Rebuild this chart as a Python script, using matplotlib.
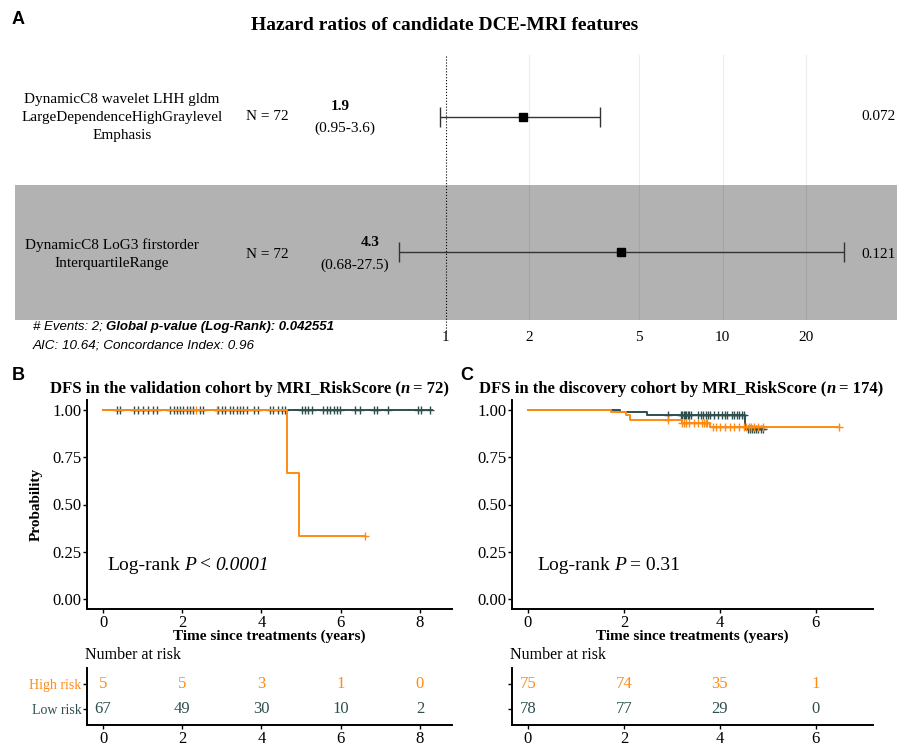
import numpy as np
import matplotlib
matplotlib.use("Agg")
import matplotlib.pyplot as plt

plt.rcParams['font.family'] = ['Liberation Serif', 'DejaVu Serif']
plt.rcParams['mathtext.fontset'] = 'stix'

W, H = 897, 746
HIGH = '#FF8A14'
LOW = '#2F4F4F'
BAND = '#B2B2B2'

# ---- forest plot data
features = ["DynamicC8 wavelet LHH gldm\nLargeDependenceHighGraylevel\nEmphasis",
            "DynamicC8 LoG3 firstorder\nInterquartileRange"]
n_obs = [72, 72]
hr = [1.9, 4.3]
ci_low = [0.95, 0.68]
ci_high = [3.6, 27.5]
p_vals = ["0.072", "0.121"]
hr_ticks = [1, 2, 5, 10, 20]

# ---- KM validation cohort (B)
b_high_t = [0, 4.65, 4.95, 6.62]
b_high_s = [1.0, 0.667, 0.333, 0.333]
b_high_cens = [2.36, 2.87, 6.62]
b_low_t = [0, 8.3]
b_low_s = [1.0, 1.0]
b_low_cens = [0.35, 0.43, 0.77, 0.89, 1.02, 1.14, 1.27, 1.36, 1.69, 1.78, 1.86, 1.94,
              2.03, 2.11, 2.20, 2.28, 2.45, 2.53, 2.91, 3.00, 3.08, 3.21, 3.29, 3.38,
              3.46, 3.54, 3.63, 3.80, 3.92, 4.22, 4.30, 4.43, 4.51, 4.60, 5.02, 5.10,
              5.18, 5.27, 5.56, 5.65, 5.73, 5.82, 5.90, 5.98, 6.36, 6.49, 6.83, 6.91,
              7.20, 7.96, 8.04, 8.26]
b_risk_t = [0, 2, 4, 6, 8]
b_risk_high = [5, 5, 3, 1, 0]
b_risk_low = [67, 49, 30, 10, 2]

# ---- KM discovery cohort (C)
c_high_t = [0, 1.72, 2.04, 2.13, 3.2, 3.8, 6.48]
c_high_s = [1.0, 0.987, 0.975, 0.946, 0.932, 0.910, 0.910]
c_high_cens = [2.92, 3.22, 3.26, 3.30, 3.35, 3.45, 3.55, 3.62, 3.66, 3.70, 3.74, 3.85,
               3.92, 4.0, 4.1, 4.2, 4.3, 4.4, 4.5, 4.55, 4.6, 4.65, 4.7, 4.8, 4.9, 6.48]
c_low_t = [0, 1.92, 2.47, 4.53, 4.9]
c_low_s = [1.0, 0.987, 0.974, 0.900, 0.900]
c_low_cens = [2.92, 3.18, 3.22, 3.25, 3.28, 3.30, 3.33, 3.36, 3.40, 3.55, 3.60, 3.65,
              3.70, 3.75, 3.80, 3.88, 3.95, 4.05, 4.10, 4.15, 4.25, 4.30, 4.35, 4.40,
              4.45, 4.50, 4.58, 4.62, 4.66, 4.70, 4.75, 4.80, 4.85, 4.90]
c_risk_t = [0, 2, 4, 6]
c_risk_high = [75, 74, 35, 1]
c_risk_low = [78, 77, 29, 0]

fig = plt.figure(figsize=(W / 100, H / 100), dpi=100)


def px_axes(x0, y0, x1, y1):
    return fig.add_axes([x0 / W, 1 - y1 / H, (x1 - x0) / W, (y1 - y0) / H])


def ftext(x, y, s, **kw):
    return fig.text(x / W, 1 - y / H, s, **kw)


def rich(x, y, parts, size):
    # draw text pieces one after another on the same line
    r = fig.canvas.get_renderer()
    for s, kw, gap in parts:
        t = ftext(x, y, s, ha='left', va='center', fontsize=size, **kw)
        x = t.get_window_extent(r).x1 + gap


# ================= A: forest plot
ftext(18, 20, "A", family='Liberation Sans', fontweight='bold', fontsize=13, ha='center', va='center')
ftext(445, 25, "Hazard ratios of candidate DCE-MRI features", fontweight='bold',
      fontsize=14, ha='center', va='center')

axf = px_axes(15, 55, 897, 320)
axf.set_xscale('log')
axf.set_xlim(0.02787, 42.58)
axf.set_ylim(1.5, -0.46)
for i in range(len(hr)):
    if i % 2 == 1:
        axf.axhspan(i - 0.5, i + 0.5, color=BAND, zorder=0, lw=0)
for v in hr_ticks[1:]:
    axf.axvline(v, color='black', alpha=0.07, lw=0.8, zorder=1)
axf.axvline(1, ymin=-0.04, ymax=1, ls=':', color='black', lw=0.8, clip_on=False, zorder=2)
for i in range(len(hr)):
    axf.errorbar(hr[i], i, xerr=[[hr[i] - ci_low[i]], [ci_high[i] - hr[i]]], fmt='s',
                 color='black', ms=5.5, ecolor='#333333', elinewidth=1, capsize=7.2,
                 capthick=1, zorder=3)
axf.set_xticks(hr_ticks)
axf.set_xticklabels([str(v) for v in hr_ticks])
axf.xaxis.set_minor_locator(matplotlib.ticker.NullLocator())
axf.set_yticks([])
axf.tick_params(axis='x', length=0, pad=8, labelsize=11)
for sp in axf.spines.values():
    sp.set_visible(False)

row_y = [117, 254]
label_x = [122, 112]
hr_x = [340, 370]
ci_x = [345, 355]
for i in range(len(hr)):
    ftext(label_x[i], row_y[i], features[i], ha='center', va='center', fontsize=11,
          linespacing=1.5)
    ftext(267, row_y[i], f"N = {n_obs[i]}", ha='center', va='center', fontsize=11)
    ftext(hr_x[i], row_y[i] - 11, f"{hr[i]}", ha='center', va='center', fontsize=11,
          fontweight='bold')
    ftext(ci_x[i], row_y[i] + 11, f"({ci_low[i]}-{ci_high[i]})", ha='center', va='center',
          fontsize=11)
    ftext(896, row_y[i], p_vals[i], ha='right', va='center', fontsize=11)

sans_it = dict(family='Liberation Sans', style='italic')
rich(33, 327, [("# Events: 2;", sans_it, 3),
               ("Global p-value (Log-Rank): 0.042551", dict(sans_it, fontweight='bold'), 0)], 9.5)
rich(33, 345, [("AIC: 10.64; Concordance Index: 0.96", sans_it, 0)], 9.7)


# ================= B & C: KM curves
def km_panel(x0, x1, xlim, xt, steps, risk, title_n, title_txt, ptxt, letter, lx, row_labels):
    ax = px_axes(x0, 400, x1, 609)
    for t, s, cens, col in steps:
        ax.step(t, s, where='post', color=col, lw=1.4)
        idx = np.searchsorted(t, cens, side='right') - 1
        ax.plot(cens, np.asarray(s)[idx], ls='none', marker='+', ms=6, mew=1, color=col)
    ax.set_xlim(*xlim)
    ax.set_ylim(-0.053, 1.053)
    ax.set_xticks(xt)
    ax.set_yticks([0, 0.25, 0.5, 0.75, 1.0])
    ax.set_yticklabels(["0.00", "0.25", "0.50", "0.75", "1.00"])
    ax.tick_params(labelsize=12, length=3, width=1, pad=1)
    for sp in ['top', 'right']:
        ax.spines[sp].set_visible(False)
    for sp in ['left', 'bottom']:
        ax.spines[sp].set_linewidth(1.4)
    ax.set_xlabel("Time since treatments (years)", fontweight='bold', fontsize=11, labelpad=-1)
    ftext(lx, 375, letter, family='Liberation Sans', fontweight='bold', fontsize=13,
          ha='center', va='center')
    rich(x0 - 37 if letter == 'B' else x0 - 33, 389,
         [(title_txt + " (", dict(fontweight='bold'), 0),
          ("n", dict(fontweight='bold', style='italic'), 3),
          (f"= {title_n})", dict(fontweight='bold'), 0)], 12)
    rich(x0 + 20 if letter == 'B' else x0 + 25, 565, ptxt, 14)

    # risk table
    axr = px_axes(x0, 668, x1, 725)
    rt, rh, rl = risk
    for j in range(len(rt)):
        axr.text(rt[j], 1, str(rh[j]), color=HIGH, ha='center', va='center', fontsize=12)
        axr.text(rt[j], 0, str(rl[j]), color=LOW, ha='center', va='center', fontsize=12)
    axr.set_xlim(*xlim)
    axr.set_ylim(-0.6, 1.6)
    axr.set_xticks(xt)
    axr.set_yticks([0, 1])
    axr.set_yticklabels(row_labels)
    for lab, col in zip(axr.get_yticklabels(), [LOW, HIGH]):
        lab.set_color(col)
    axr.tick_params(axis='y', labelsize=10, length=3, width=1, pad=1)
    axr.tick_params(axis='x', labelsize=12, length=3, width=1, pad=1)
    for sp in ['top', 'right']:
        axr.spines[sp].set_visible(False)
    for sp in ['left', 'bottom']:
        axr.spines[sp].set_linewidth(1.4)
    ftext(x0 - 2, 655, "Number at risk", ha='left', va='center', fontsize=11.5)
    return ax


axb = km_panel(87, 452, (-0.404, 8.81), b_risk_t,
               [(b_low_t, b_low_s, b_low_cens, LOW), (b_high_t, b_high_s, b_high_cens, HIGH)],
               (b_risk_t, b_risk_high, b_risk_low), 72,
               "DFS in the validation cohort by MRI_RiskScore",
               [("Log-rank", {}, 4), ("P", dict(style='italic'), 4), ("<", {}, 4),
                ("0.0001", dict(style='italic'), 0)], "B", 18, ["Low risk", "High risk"])
axb.set_ylabel("Probability", fontweight='bold', fontsize=11, labelpad=7)

axc = km_panel(512, 873, (-0.333, 7.19), c_risk_t,
               [(c_low_t, c_low_s, c_low_cens, LOW), (c_high_t, c_high_s, c_high_cens, HIGH)],
               (c_risk_t, c_risk_high, c_risk_low), 174,
               "DFS in the discovery cohort by MRI_RiskScore",
               [("Log-rank", {}, 4), ("P", dict(style='italic'), 4), ("= 0.31", {}, 0)],
               "C", 467, ["", ""])

fig.savefig("out.png", dpi=100)
